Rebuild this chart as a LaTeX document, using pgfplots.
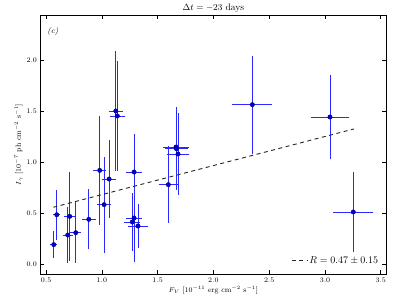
\documentclass[border=0pt]{standalone}
\usepackage{pgfplots}
\pgfplotsset{compat=1.18}
\definecolor{ebar}{RGB}{40,40,255}
\definecolor{mfill}{RGB}{0,0,215}
\definecolor{medge}{RGB}{0,0,110}
\pgfplotstableread{
x y
0.569 0.190
0.596 0.483
0.694 0.284
0.712 0.467
0.766 0.307
0.883 0.438
0.981 0.918
1.020 0.582
1.065 0.833
1.125 1.500
1.139 1.451
1.289 0.902
1.289 0.451
1.273 0.412
1.324 0.373
1.665 1.147
1.668 1.130
1.683 1.078
1.596 0.778
2.349 1.562
3.045 1.441
3.254 0.510
}\datatable
\begin{document}
\begin{tikzpicture}
\begin{axis}[
  scale only axis, width=345.8pt, height=259pt,
  xmin=0.45, xmax=3.55, ymin=-0.098, ymax=2.441,
  xtick={0.5,1.0,1.5,2.0,2.5,3.0,3.5},
  ytick={0,0.5,1.0,1.5,2.0},
  xticklabel={\pgfmathprintnumber[fixed,fixed zerofill,precision=1]{\tick}},
  yticklabel={\pgfmathprintnumber[fixed,fixed zerofill,precision=1]{\tick}},
  tick label style={font=\fontsize{7.5}{9}\selectfont},
  tick style={black, line width=0.5pt},
  major tick length=4pt,
  axis line style={line width=0.8pt},
  title={$\Delta t = -23$ days},
  title style={font=\fontsize{9.5}{11}\selectfont, yshift=-7pt},
  xlabel={$F_V$ [$10^{-11}$ erg cm$^{-2}$ s$^{-1}$]},
  ylabel={$I_\gamma$ [$10^{-7}$ ph cm$^{-2}$ s$^{-1}$]},
  label style={font=\fontsize{7.5}{9}\selectfont},
  xlabel style={yshift=3pt},
  ylabel style={yshift=-3pt},
  legend style={draw=none, fill=none, at={(1,0)}, anchor=south east, xshift=-3pt, yshift=5pt, font=\fontsize{10}{12}\selectfont},
  legend image post style={xscale=0.9},
]
% error bars (x +- ex at y, y +- ey at x), one segment each
\addplot[ebar, line width=0.9pt, mark=none, forget plot, unbounded coords=jump] coordinates {
(0.536,0.190) (0.602,0.190) (nan,nan) (0.569,0.060) (0.569,0.320) (nan,nan)
(0.566,0.483) (0.626,0.483) (nan,nan) (0.596,0.238) (0.596,0.728) (nan,nan)
(0.649,0.284) (0.739,0.284) (nan,nan) (0.694,0.014) (0.694,0.554) (nan,nan)
(0.662,0.467) (0.762,0.467) (nan,nan) (0.712,0.032) (0.712,0.902) (nan,nan)
(0.716,0.307) (0.816,0.307) (nan,nan) (0.766,0.011) (0.766,0.603) (nan,nan)
(0.820,0.438) (0.946,0.438) (nan,nan) (0.883,0.144) (0.883,0.732) (nan,nan)
(0.924,0.918) (1.038,0.918) (nan,nan) (0.981,0.383) (0.981,1.453) (nan,nan)
(0.960,0.582) (1.080,0.582) (nan,nan) (1.020,0.112) (1.020,1.052) (nan,nan)
(1.005,0.833) (1.125,0.833) (nan,nan) (1.065,0.455) (1.065,1.211) (nan,nan)
(1.061,1.500) (1.189,1.500) (nan,nan) (1.125,0.910) (1.125,2.090) (nan,nan)
(1.074,1.451) (1.204,1.451) (nan,nan) (1.139,0.911) (1.139,1.991) (nan,nan)
(1.219,0.902) (1.359,0.902) (nan,nan) (1.289,0.532) (1.289,1.272) (nan,nan)
(1.219,0.451) (1.359,0.451) (nan,nan) (1.289,0.021) (1.289,0.881) (nan,nan)
(1.203,0.412) (1.343,0.412) (nan,nan) (1.273,0.132) (1.273,0.692) (nan,nan)
(1.237,0.373) (1.411,0.373) (nan,nan) (1.324,0.158) (1.324,0.588) (nan,nan)
(1.545,1.147) (1.785,1.147) (nan,nan) (1.665,0.757) (1.665,1.537) (nan,nan)
(1.568,1.130) (1.768,1.130) (nan,nan) (1.668,0.730) (1.668,1.530) (nan,nan)
(1.583,1.078) (1.783,1.078) (nan,nan) (1.683,0.678) (1.683,1.478) (nan,nan)
(1.508,0.778) (1.684,0.778) (nan,nan) (1.596,0.403) (1.596,1.153) (nan,nan)
(2.169,1.562) (2.529,1.562) (nan,nan) (2.349,1.082) (2.349,2.042) (nan,nan)
(2.878,1.441) (3.212,1.441) (nan,nan) (3.045,1.026) (3.045,1.856) (nan,nan)
(3.074,0.510) (3.434,0.510) (nan,nan) (3.254,0.120) (3.254,0.900)
};
\addplot[only marks, mark=*, mark size=2.2pt, forget plot,
  mark options={fill=mfill, draw=medge, line width=0.4pt}]
  table[x=x, y=y]{\datatable};
\addplot[black!85, line width=0.9pt, dash pattern=on 4pt off 3.5pt] coordinates {(0.565,0.556) (3.26,1.324)};
\addlegendentry{$R = 0.47 \pm 0.15$}
\node[font=\fontsize{8}{10}\selectfont] at (rel axis cs:0.036,0.937) {\textit{(c)}};
\end{axis}
\pgfresetboundingbox
\path[use as bounding box] ([xshift=-40.5pt,yshift=-31pt]current axis.south west) rectangle ([xshift=20.7pt,yshift=15pt]current axis.north east);
\end{tikzpicture}
\end{document}
